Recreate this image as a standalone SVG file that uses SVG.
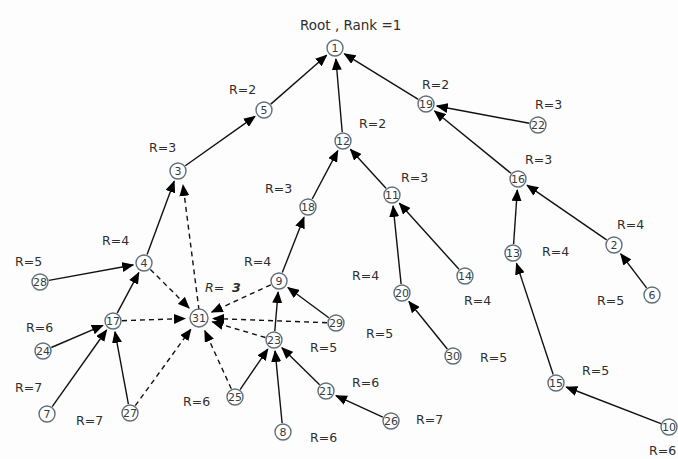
<svg xmlns="http://www.w3.org/2000/svg" width="678" height="459" viewBox="0 0 678 459">
<style>
.n circle{fill:#fff;stroke:#62707a;stroke-width:1.4}
.n text{font-family:"DejaVu Sans",sans-serif;font-size:11px;fill:#3a3a3a;text-anchor:middle}
.e line{stroke:#111;stroke-width:1.4;marker-end:url(#ah)}
.e .d{stroke-dasharray:5 4}
.lb{font-family:"DejaVu Sans",sans-serif;font-size:12.5px;fill:#2e2e2e}
</style>
<defs>
<marker id="ah" markerUnits="userSpaceOnUse" markerWidth="12" markerHeight="10" refX="11" refY="5" orient="auto">
<path d="M0,0 L12,5 L0,10 z" fill="#000"/>
</marker>
</defs>
<rect width="678" height="459" fill="#fdfdfd"/>
<g id="connectors" class="e">
<line x1="270.8" y1="104.1" x2="326.7" y2="55.2"/>
<line x1="185.3" y1="165.8" x2="255" y2="116.4"/>
<line x1="342.2" y1="132" x2="335.9" y2="59"/>
<line x1="418.3" y1="99.3" x2="344.4" y2="53.8"/>
<line x1="529.2" y1="123.3" x2="436.8" y2="106"/>
<line x1="511" y1="173.3" x2="434.5" y2="111"/>
<line x1="312.2" y1="199" x2="337.8" y2="150.7"/>
<line x1="386" y1="188.3" x2="350.4" y2="149.2"/>
<line x1="147.1" y1="254.6" x2="174.2" y2="181.3"/>
<line x1="282.3" y1="272.6" x2="304" y2="217.2"/>
<line x1="401.1" y1="284" x2="393.1" y2="205.9"/>
<line x1="459" y1="269.3" x2="399.4" y2="203.2"/>
<line x1="513.6" y1="244" x2="517.3" y2="190"/>
<line x1="606.6" y1="239.9" x2="527.1" y2="185.2"/>
<line x1="646.6" y1="287.8" x2="620.7" y2="253.8"/>
<line x1="553.2" y1="374.5" x2="516.5" y2="263.4"/>
<line x1="661.6" y1="423.8" x2="566.3" y2="387"/>
<line x1="48.9" y1="280.4" x2="133.2" y2="265"/>
<line x1="117.2" y1="313.1" x2="138.8" y2="272.7"/>
<line x1="51.3" y1="347.5" x2="102.9" y2="325.3"/>
<line x1="52.2" y1="406.7" x2="106.6" y2="330"/>
<line x1="128.4" y1="404.2" x2="115" y2="331.8"/>
<line x1="274.8" y1="331" x2="278.1" y2="292"/>
<line x1="328.8" y1="317.7" x2="287.9" y2="287.5"/>
<line x1="240.1" y1="389.6" x2="267.8" y2="349.1"/>
<line x1="282.1" y1="423" x2="275.1" y2="350.9"/>
<line x1="319.6" y1="384.7" x2="281.9" y2="347.7"/>
<line x1="382.8" y1="417.2" x2="336" y2="395.6"/>
<line x1="447.3" y1="349" x2="408.9" y2="301.5"/>
<line class="d" x1="199" y1="310" x2="183" y2="185"/>
<line class="d" x1="150.4" y1="269.4" x2="189.1" y2="308.1"/>
<line class="d" x1="122" y1="320.7" x2="185" y2="318.5"/>
<line class="d" x1="135.3" y1="405.7" x2="190.8" y2="329.3"/>
<line class="d" x1="270.8" y1="284.8" x2="211.7" y2="312.1"/>
<line class="d" x1="327" y1="322.7" x2="213" y2="318.5"/>
<line class="d" x1="265.4" y1="337.5" x2="212.4" y2="321.9"/>
<line class="d" x1="231.3" y1="388.8" x2="204.8" y2="330.7"/>
</g>
<g id="n1" class="n"><circle cx="335" cy="48" r="8"/><text x="335" y="52">1</text></g>
<g id="n5" class="n"><circle cx="264" cy="110" r="8"/><text x="264" y="114">5</text></g>
<g id="n3" class="n"><circle cx="178" cy="171" r="8"/><text x="178" y="175">3</text></g>
<g id="n12" class="n"><circle cx="343" cy="141" r="8"/><text x="343" y="145">12</text></g>
<g id="n18" class="n"><circle cx="308" cy="207" r="8"/><text x="308" y="211">18</text></g>
<g id="n19" class="n"><circle cx="426" cy="104" r="8"/><text x="426" y="108">19</text></g>
<g id="n22" class="n"><circle cx="538" cy="125" r="8"/><text x="538" y="129">22</text></g>
<g id="n16" class="n"><circle cx="518" cy="179" r="8"/><text x="518" y="183">16</text></g>
<g id="n11" class="n"><circle cx="392" cy="195" r="8"/><text x="392" y="199">11</text></g>
<g id="n4" class="n"><circle cx="144" cy="263" r="8"/><text x="144" y="267">4</text></g>
<g id="n28" class="n"><circle cx="40" cy="282" r="8"/><text x="40" y="286">28</text></g>
<g id="n17" class="n"><circle cx="113" cy="321" r="8"/><text x="113" y="325">17</text></g>
<g id="n24" class="n"><circle cx="43" cy="351" r="8"/><text x="43" y="355">24</text></g>
<g id="n7" class="n"><circle cx="47" cy="414" r="8"/><text x="47" y="418">7</text></g>
<g id="n27" class="n"><circle cx="130" cy="413" r="8"/><text x="130" y="417">27</text></g>
<g id="n31" class="n"><circle cx="199" cy="318" r="9"/><text x="199" y="322">31</text></g>
<g id="n9" class="n"><circle cx="279" cy="281" r="8"/><text x="279" y="285">9</text></g>
<g id="n29" class="n"><circle cx="336" cy="323" r="8"/><text x="336" y="327">29</text></g>
<g id="n23" class="n"><circle cx="274" cy="340" r="8"/><text x="274" y="344">23</text></g>
<g id="n25" class="n"><circle cx="235" cy="397" r="8"/><text x="235" y="401">25</text></g>
<g id="n8" class="n"><circle cx="283" cy="432" r="8"/><text x="283" y="436">8</text></g>
<g id="n21" class="n"><circle cx="326" cy="391" r="8"/><text x="326" y="395">21</text></g>
<g id="n26" class="n"><circle cx="391" cy="421" r="8"/><text x="391" y="425">26</text></g>
<g id="n20" class="n"><circle cx="402" cy="293" r="8"/><text x="402" y="297">20</text></g>
<g id="n14" class="n"><circle cx="465" cy="276" r="8"/><text x="465" y="280">14</text></g>
<g id="n30" class="n"><circle cx="453" cy="356" r="8"/><text x="453" y="360">30</text></g>
<g id="n13" class="n"><circle cx="513" cy="253" r="8"/><text x="513" y="257">13</text></g>
<g id="n2" class="n"><circle cx="614" cy="245" r="8"/><text x="614" y="249">2</text></g>
<g id="n6" class="n"><circle cx="652" cy="295" r="8"/><text x="652" y="299">6</text></g>
<g id="n15" class="n"><circle cx="556" cy="383" r="8"/><text x="556" y="387">15</text></g>
<g id="n10" class="n"><circle cx="669" cy="427" r="8"/><text x="669" y="431">10</text></g>
<g id="labels" class="lb">
<text x="300" y="30" font-size="13.5">Root , Rank =1</text>
<text x="229" y="94">R=2</text>
<text x="149" y="152">R=3</text>
<text x="265" y="193">R=3</text>
<text x="422" y="89">R=2</text>
<text x="535" y="109">R=3</text>
<text x="359" y="128">R=2</text>
<text x="525" y="164">R=3</text>
<text x="401" y="182">R=3</text>
<text x="617" y="229">R=4</text>
<text x="102" y="245">R=4</text>
<text x="15" y="266">R=5</text>
<text x="244" y="266">R=4</text>
<text x="205" y="292" font-style="italic">R=</text>
<text x="232" y="292" font-style="italic" font-weight="bold">3</text>
<text x="26" y="332">R=6</text>
<text x="310" y="352">R=5</text>
<text x="15" y="392">R=7</text>
<text x="76" y="425">R=7</text>
<text x="183" y="406">R=6</text>
<text x="310" y="442">R=6</text>
<text x="352" y="280">R=4</text>
<text x="464" y="305">R=4</text>
<text x="542" y="256">R=4</text>
<text x="597" y="305">R=5</text>
<text x="366" y="338">R=5</text>
<text x="480" y="362">R=5</text>
<text x="582" y="375">R=5</text>
<text x="352" y="387">R=6</text>
<text x="416" y="424">R=7</text>
<text x="649" y="455">R=6</text>
</g>
</svg>
